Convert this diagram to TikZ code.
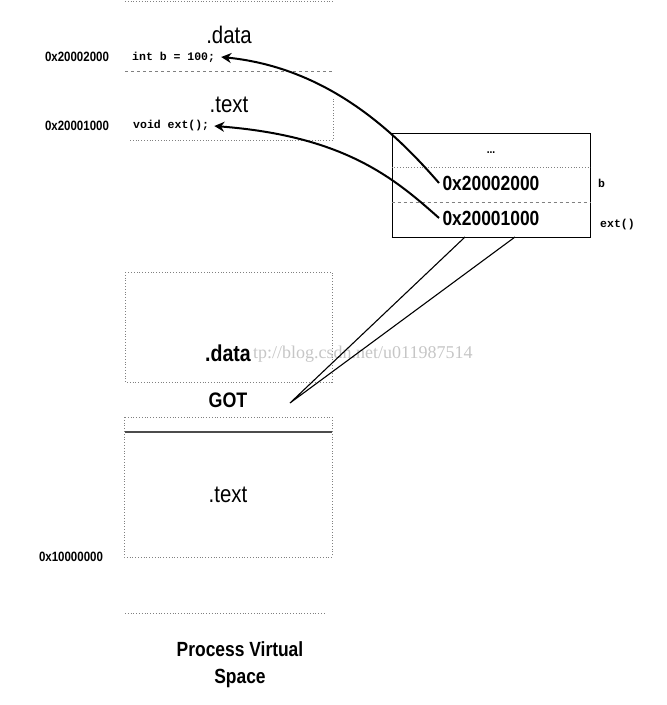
\documentclass[tikz,border=0pt]{standalone}
\usepackage{fontspec}
\setmainfont{Liberation Sans}[FakeStretch=0.85]
\newfontfamily\codefont{Liberation Mono}
\newfontfamily\markfont{Liberation Serif}
\usetikzlibrary{arrows.meta}
\tikzset{
  seclabel/.style={inner sep=0pt, font=\fontsize{24}{24}\selectfont},
  seclabelbf/.style={inner sep=0pt, font=\bfseries\fontsize{23}{23}\selectfont},
  addrlabel/.style={inner sep=0pt, font=\bfseries\fontsize{13.5}{14}\selectfont},
  slotlabel/.style={font=\bfseries\fontsize{20.5}{21}\selectfont},
  codelabel/.style={inner sep=0pt, anchor=west, font=\codefont\bfseries\fontsize{11.5}{12}\selectfont},
  border/.style={gray, dotted, line width=0.8pt},
  ptrarrow/.style={line width=2pt, -{Stealth[length=10pt,width=10pt]}},
}
\begin{document}
\begin{tikzpicture}[x=1pt,y=-1pt]
\useasboundingbox (0,0) rectangle (667,705);

% upper part of the address space
\draw[border] (125,1) -- (333,1);
\node[seclabel] (datahi) at (229,35){.data};
\node[addrlabel] (addrb) at (77,57){0x20002000};
\node[codelabel] (intb) at (132,57){int b = 100;};
\draw[border, dashed] (125,71) -- (333,71);
\node[seclabel] (texthi) at (229,105){.text};
\node[addrlabel] (addrext) at (77,126){0x20001000};
\node[codelabel] (voidext) at (133,126){void ext();};
\draw[border] (130,140) -- (333,140) -- (333,97);

% GOT entries
\node[draw, line width=0.8pt, minimum width=198pt, minimum height=104pt] (gotbox) at (491,185){};
\draw[line width=1.4pt] (gotbox.south west) -- (gotbox.south east);
\node[inner sep=0pt, font=\bfseries\fontsize{12}{12}\selectfont] (dots) at (491,153){...};
\draw[border] (gotbox.west |- 0,167) -- (gotbox.east |- 0,167);
\node[slotlabel] (slotb) at (491,183){0x20002000};
\draw[border, dashed] (gotbox.west |- 0,202) -- (gotbox.east |- 0,202);
\node[slotlabel] (slotext) at (491,218){0x20001000};
\node[codelabel] (nameb) at (598,183){b};
\node[codelabel] (nameext) at (600,225){ext()};

\draw[ptrarrow] (slotb.west) .. controls +(-40,-46) and +(110,11) .. ([xshift=6pt]intb.east);
\draw[ptrarrow] (slotext.west) .. controls +(-45,-40) and +(130,10) .. ([xshift=5pt]voidext.east);

% lower part: GOT in .data
\draw[border] (125,272) rectangle (332,382);
\node[seclabelbf] (datalo) at (228,353){.data};
\node[anchor=west, inner sep=0pt, text=gray!45, font=\markfont\fontsize{18}{18}\selectfont] (mark) at (253,354){tp://blog.csdn.net/u011987514};
\node[inner sep=0pt, font=\bfseries\fontsize{21}{21}\selectfont] (got) at (228,400){GOT};
\coordinate (gotend) at (290,403);
\coordinate (pinb) at (465,237);
\coordinate (pinext) at (515,237);
\draw[line width=1.1pt] (pinb) -- (gotend) -- (pinext);

\draw[border] (125,417) -- (332,417);
\draw[line width=1.2pt, gray!60!black] (125,432) -- (332,432);
\draw[border] (124,417) -- (124,557) -- (332,557) -- (332,417);
\node[seclabel] (textlo) at (228,495){.text};
\node[addrlabel] (addrlo) at (71,557){0x10000000};
\draw[border] (125,613) -- (325,613);

\node[align=center, inner sep=0pt, font=\bfseries\fontsize{20.5}{27}\selectfont] (caption) at (240,665){Process Virtual\\Space};
\end{tikzpicture}
\end{document}
